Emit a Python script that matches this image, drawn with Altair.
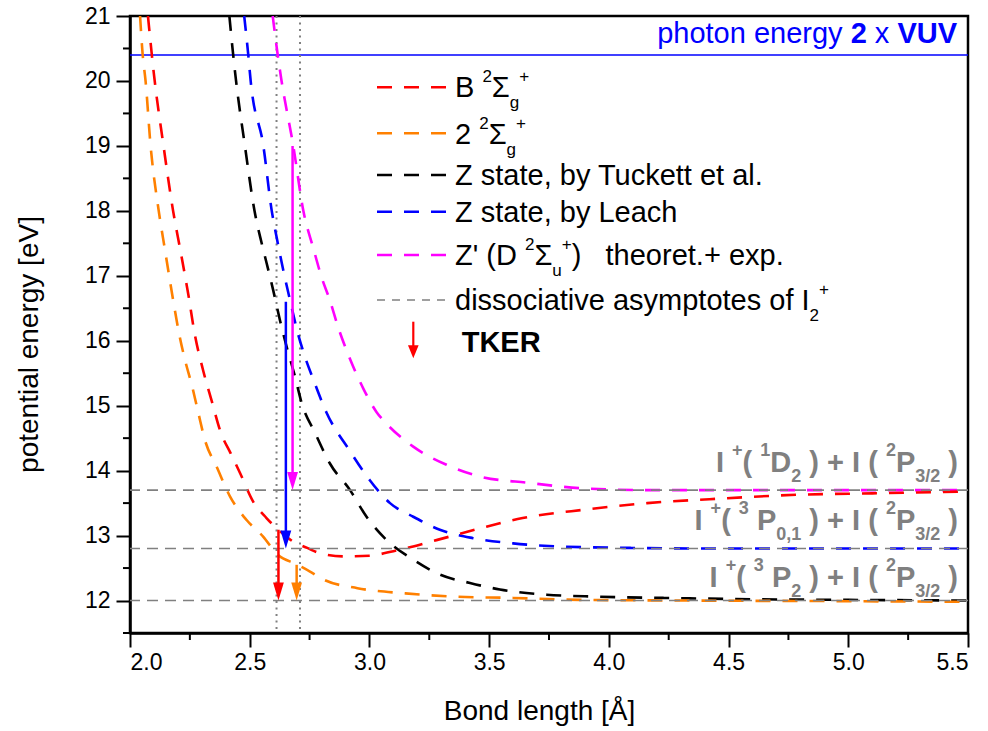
import re
import altair as alt
import pandas as pd

# ---------------- data ----------------
red_x = [2.075, 2.10, 2.14, 2.18, 2.21, 2.245, 2.27, 2.305, 2.34, 2.38, 2.42, 2.46, 2.515, 2.57, 2.62,
         2.68, 2.74, 2.80, 2.90, 3.00, 3.10, 3.28, 3.46, 3.64, 3.90, 4.16, 4.42, 4.80, 5.10, 5.50]
red_y = [21.0, 20.1, 19.0, 18.0, 17.4, 16.68, 16.11, 15.55, 15.09, 14.58, 14.27, 13.96, 13.52, 13.27, 13.09,
         12.91, 12.81, 12.72, 12.68, 12.69, 12.76, 12.93, 13.11, 13.27, 13.40, 13.50, 13.56, 13.63, 13.65, 13.68]

orange_x = [2.042, 2.053, 2.065, 2.086, 2.12, 2.146, 2.18, 2.205, 2.23, 2.26, 2.286, 2.313, 2.362, 2.418,
            2.487, 2.557, 2.61, 2.70, 2.75, 2.81, 2.95, 3.15, 3.36, 3.60, 3.88, 4.30, 5.00, 5.50]
orange_y = [21.0, 20.4, 20.0, 19.0, 18.0, 17.4, 16.63, 16.11, 15.70, 15.29, 14.88, 14.47, 14.06, 13.60,
            13.24, 12.98, 12.73, 12.55, 12.45, 12.32, 12.19, 12.11, 12.06, 12.04, 12.01, 12.0, 11.99, 11.98]

black_x = [2.415, 2.431, 2.443, 2.48, 2.52, 2.55, 2.571, 2.598, 2.626, 2.654, 2.689, 2.717, 2.773, 2.835,
           2.919, 2.988, 3.072, 3.183, 3.294, 3.42, 3.545, 3.74, 3.95, 4.23, 4.60, 5.00, 5.50]
black_y = [21.0, 20.4, 20.0, 19.0, 18.0, 17.5, 17.19, 16.78, 16.32, 15.91, 15.45, 15.04, 14.58, 14.11,
           13.70, 13.29, 12.93, 12.63, 12.40, 12.27, 12.17, 12.09, 12.06, 12.04, 12.02, 12.01, 12.0]

blue_x = [2.477, 2.494, 2.504, 2.557, 2.592, 2.612, 2.64, 2.668, 2.70, 2.731, 2.766, 2.82, 2.919, 3.0,
          3.086, 3.183, 3.294, 3.433, 3.60, 3.81, 4.09, 4.50, 5.00, 5.50]
blue_y = [21.0, 20.4, 20.0, 19.0, 18.0, 17.6, 17.09, 16.63, 16.13, 15.75, 15.40, 14.90, 14.30, 13.86,
          13.50, 13.29, 13.09, 12.96, 12.88, 12.83, 12.81, 12.80, 12.80, 12.80]

magenta_x = [2.596, 2.617, 2.633, 2.682, 2.724, 2.766, 2.80, 2.835, 2.87, 2.91, 2.975, 3.03, 3.072, 3.183,
             3.322, 3.461, 3.67, 3.88, 4.16, 4.60, 5.00, 5.50]
magenta_y = [21.0, 20.4, 20.0, 19.0, 18.0, 17.42, 16.98, 16.62, 16.2, 15.8, 15.26, 14.9, 14.72, 14.37,
             14.09, 13.91, 13.81, 13.73, 13.70, 13.70, 13.70, 13.70]

asymptote_y = [12.0, 12.8, 13.7]
photon_y = [20.4]
marker_x = [2.612, 2.71]

arrow_names = ["B", "2", "Z Leach", "Z'"]
arrow_x = [2.62, 2.696, 2.651, 2.679]
arrow_from = [13.09, 12.55, 16.6, 19.0]
arrow_to = [12.0, 12.0, 12.8, 13.7]

x_ticks = [2.0, 2.5, 3.0, 3.5, 4.0, 4.5, 5.0, 5.5]
x_minor = [2.25, 2.75, 3.25, 3.75, 4.25, 4.75, 5.25]
y_ticks = [12, 13, 14, 15, 16, 17, 18, 19, 20, 21]
y_minor = [11.5, 12.5, 13.5, 14.5, 15.5, 16.5, 17.5, 18.5, 19.5, 20.5]

# ---------------- styling / layout ----------------
FONT = "Liberation Sans, Arial, Helvetica, sans-serif"
W, H = 838, 617
L, T = 130, 16
XD = (2.0, 5.5)
YD = (11.5, 21.0)
xs = alt.Scale(domain=list(XD), nice=False, zero=False)
ys = alt.Scale(domain=list(YD), nice=False, zero=False)
x_axis = alt.Axis(title="Bond length [Å]", values=x_ticks, format=".1f", tickSize=14,
                  labelPadding=4, titleX=409, titleY=86, titleAlign="center",
                  titleBaseline="alphabetic")
y_axis = alt.Axis(title="potential energy [eV]", values=y_ticks, format="d", tickSize=14,
                  labelPadding=6, titleX=-93, titleY=328, titleAngle=270,
                  titleAlign="center", titleBaseline="alphabetic")

COL = {"B": "#ff0000", "2": "#ff8000", "Z Tuckett": "#000000", "Z Leach": "#0000ff", "Z'": "#ff00ff"}
GRAY = "#808080"


def px2x(px):
    return XD[0] + (px - L) * (XD[1] - XD[0]) / W


def py2y(py):
    return YD[1] - (py - T) * (YD[1] - YD[0]) / H


def dy_len(p):
    return p * (YD[1] - YD[0]) / H


REG = {" ": 278, "'": 191, "(": 333, ")": 333, "+": 584, ",": 278, ".": 278, "/": 278, "Σ": 617,
       "A": 667, "B": 667, "C": 722, "D": 722, "E": 667, "I": 278, "K": 667, "L": 556, "P": 667,
       "R": 722, "T": 611, "U": 722, "V": 667, "Z": 611,
       "a": 556, "b": 556, "c": 500, "d": 556, "e": 556, "f": 278, "g": 556, "h": 556, "i": 222,
       "k": 500, "l": 222, "m": 833, "n": 556, "o": 556, "p": 556, "r": 333, "s": 500, "t": 278,
       "u": 556, "v": 500, "x": 500, "y": 500}
BOLD = {" ": 278, "(": 333, ")": 333, "+": 584, ",": 278, ".": 278, "/": 278,
        "D": 722, "E": 667, "I": 278, "K": 722, "P": 667, "R": 722, "T": 611, "U": 722, "V": 667, "x": 556}


def tw(s, size, bold):
    tab = BOLD if bold else REG
    return sum(tab.get(c, 556) for c in s) / 1000.0 * size


def layout(pieces, base, S, s, color, start=None, right=None, sup=-15, sub=10):
    def psize(k):
        return S if k == "n" else s
    total = sum(tw(t, psize(k), b) for t, k, b in pieces)
    x = start if start is not None else right - total
    out = []
    for t, k, b in pieces:
        size = psize(k)
        off = {"n": 0, "sup": sup, "sub": sub}[k]
        for m in re.finditer(r"\S+(?: \S+)*", t):
            px = x + tw(t[:m.start()], size, b)
            out.append(dict(x=px2x(px), y=py2y(base + off), t=m.group(), size=size, bold=b, color=color))
        x += tw(t, size, b)
    return out


def X(f):
    return alt.X(f, type="quantitative", scale=xs, axis=x_axis)


def Y(f):
    return alt.Y(f, type="quantitative", scale=ys, axis=y_axis)


layers = []

# photon energy line
layers.append(alt.Chart(pd.DataFrame({"y": photon_y})).mark_rule(color="#0000ff", strokeWidth=1.6)
              .encode(y=Y("y")))

# dotted vertical markers
layers.append(alt.Chart(pd.DataFrame({"x": marker_x})).mark_rule(color=GRAY, strokeWidth=2, strokeDash=[2, 4.5])
              .encode(x=X("x")))

# potential curves
series = [("Z Tuckett", black_x, black_y), ("Z Leach", blue_x, blue_y), ("Z'", magenta_x, magenta_y),
          ("B", red_x, red_y), ("2", orange_x, orange_y)]
for name, xv, yv in series:
    df = pd.DataFrame({"x": xv, "y": yv, "i": list(range(len(xv)))})
    layers.append(alt.Chart(df).mark_line(color=COL[name], strokeWidth=2.6, strokeDash=[15, 12],
                                          clip=True, interpolate="monotone")
                  .encode(x=X("x"), y=Y("y"), order="i:Q"))

# dissociative asymptotes
layers.append(alt.Chart(pd.DataFrame({"y": asymptote_y})).mark_rule(color=GRAY, strokeWidth=1.6, strokeDash=[11, 7])
              .encode(y=Y("y")))

# TKER arrows
HEAD = "M-0.6,-2L0.6,-2L0,0Z"
for name, ax, a0, a1 in zip(arrow_names, arrow_x, arrow_from, arrow_to):
    c = COL[name]
    df = pd.DataFrame({"x": [ax], "y": [a0], "y2": [a1 + dy_len(8)], "tip": [a1]})
    layers.append(alt.Chart(df).mark_rule(color=c, strokeWidth=2.5)
                  .encode(x=X("x"), y=Y("y"), y2="y2:Q"))
    layers.append(alt.Chart(df).mark_point(shape=HEAD, size=324, filled=True, opacity=1, color=c, strokeWidth=0)
                  .encode(x=X("x"), y=Y("tip")))

# legend samples
leg_rows = [("B", 87.3), ("2", 133.3), ("Z Tuckett", 175), ("Z Leach", 211.7), ("Z'", 255)]
for name, py in leg_rows:
    df = pd.DataFrame({"x": [px2x(377)], "x2": [px2x(447)], "y": [py2y(py)]})
    layers.append(alt.Chart(df).mark_rule(color=COL[name], strokeWidth=2.6, strokeDash=[15, 12])
                  .encode(x=X("x"), x2="x2:Q", y=Y("y")))
df = pd.DataFrame({"x": [px2x(377)], "x2": [px2x(447)], "y": [py2y(300)]})
layers.append(alt.Chart(df).mark_rule(color=GRAY, strokeWidth=1.6, strokeDash=[8, 7])
              .encode(x=X("x"), x2="x2:Q", y=Y("y")))
df = pd.DataFrame({"x": [px2x(413.3)], "y": [py2y(321.7)], "y2": [py2y(352)], "tip": [py2y(358.3)]})
layers.append(alt.Chart(df).mark_rule(color="#ff0000", strokeWidth=2.2)
              .encode(x=X("x"), y=Y("y"), y2="y2:Q"))
layers.append(alt.Chart(df).mark_point(shape="M-0.82,-2L0.82,-2L0,0Z", size=169, filled=True, opacity=1,
                                       color="#ff0000", strokeWidth=0)
              .encode(x=X("x"), y=Y("tip")))

# text annotations
texts = []
LS, Ls = 29, 17
texts += layout([("B ", "n", False), ("2", "sup", False), ("Σ", "n", False), ("g", "sub", False), ("+", "sup", False)],
                97.3, LS, Ls, "#000000", start=455, sup=-15, sub=11)
texts += layout([("2 ", "n", False), ("2", "sup", False), ("Σ", "n", False), ("g", "sub", False), ("+", "sup", False)],
                144, LS, Ls, "#000000", start=455, sup=-15, sub=11)
texts += layout([("Z state, by Tuckett et al.", "n", False)], 185, LS, Ls, "#000000", start=455)
texts += layout([("Z state, by Leach", "n", False)], 221.7, LS, Ls, "#000000", start=455)
texts += layout([("Z' (D ", "n", False), ("2", "sup", False), ("Σ", "n", False), ("u", "sub", False),
                 ("+", "sup", False), (")   theoret.+ exp.", "n", False)],
                265, LS, Ls, "#000000", start=455, sup=-15, sub=11)
texts += layout([("dissociative asymptotes of I", "n", False), ("2", "sub", False), ("+", "sup", False)],
                310, LS, Ls, "#000000", start=455, sup=-15, sub=11)
texts += layout([("TKER", "n", True)], 351.7, LS, Ls, "#000000", start=461.7)

texts += layout([("photon energy ", "n", False), ("2", "n", True), (" x ", "n", False), ("VUV", "n", True)],
                43.3, 29, 17, "#0000ff", right=957)

AS, As = 29, 18
texts += layout([("I ", "n", True), ("+", "sup", True), ("( ", "n", True), ("1", "sup", True), ("D", "n", True),
                 ("2", "sub", True), (" ) + I ( ", "n", True), ("2", "sup", True), ("P", "n", True),
                 ("3/2", "sub", True), (" )", "n", True)],
                471.7, AS, As, GRAY, right=958, sup=-16, sub=10)
texts += layout([("I ", "n", True), ("+", "sup", True), ("( ", "n", True), ("3", "sup", True), (" P", "n", True),
                 ("0,1", "sub", True), (" ) + I ( ", "n", True), ("2", "sup", True), ("P", "n", True),
                 ("3/2", "sub", True), (" )", "n", True)],
                530, AS, As, GRAY, right=958, sup=-16, sub=10)
texts += layout([("I ", "n", True), ("+", "sup", True), ("( ", "n", True), ("3", "sup", True), (" P", "n", True),
                 ("2", "sub", True), (" ) + I ( ", "n", True), ("2", "sup", True), ("P", "n", True),
                 ("3/2", "sub", True), (" )", "n", True)],
                586.7, AS, As, GRAY, right=958, sup=-16, sub=10)

tdf = pd.DataFrame(texts)
for (size, bold, color), g in tdf.groupby(["size", "bold", "color"]):
    layers.append(alt.Chart(g.reset_index(drop=True))
                  .mark_text(align="left", baseline="alphabetic", font=FONT, fontSize=float(size),
                             fontWeight="bold" if bold else "normal", color=color)
                  .encode(x=X("x"), y=Y("y"), text="t:N"))

# minor ticks
layers.append(alt.Chart(pd.DataFrame({"y": y_minor})).mark_rule(color="black", strokeWidth=2)
              .encode(y=Y("y"), x=alt.value(-7), x2=alt.value(0)))
layers.append(alt.Chart(pd.DataFrame({"x": x_minor})).mark_rule(color="black", strokeWidth=2)
              .encode(x=X("x"), y=alt.value(H), y2=alt.value(H + 7)))

chart = (alt.layer(*layers)
         .properties(width=W, height=H, autosize=alt.AutoSizeParams(type="none"),
                     padding={"left": L, "top": T, "right": 988 - L - W, "bottom": 731 - T - H},
                     background="white")
         .configure_axis(domainColor="black", domainWidth=2.5, tickColor="black", tickWidth=2,
                         labelFont=FONT, labelFontSize=23, labelColor="black",
                         titleFont=FONT, titleFontSize=28, titleFontWeight="normal", titleColor="black",
                         grid=False)
         .configure_view(stroke="black", strokeWidth=2.5))

chart.save("out.html", embed_options={"renderer": "svg", "actions": False})
